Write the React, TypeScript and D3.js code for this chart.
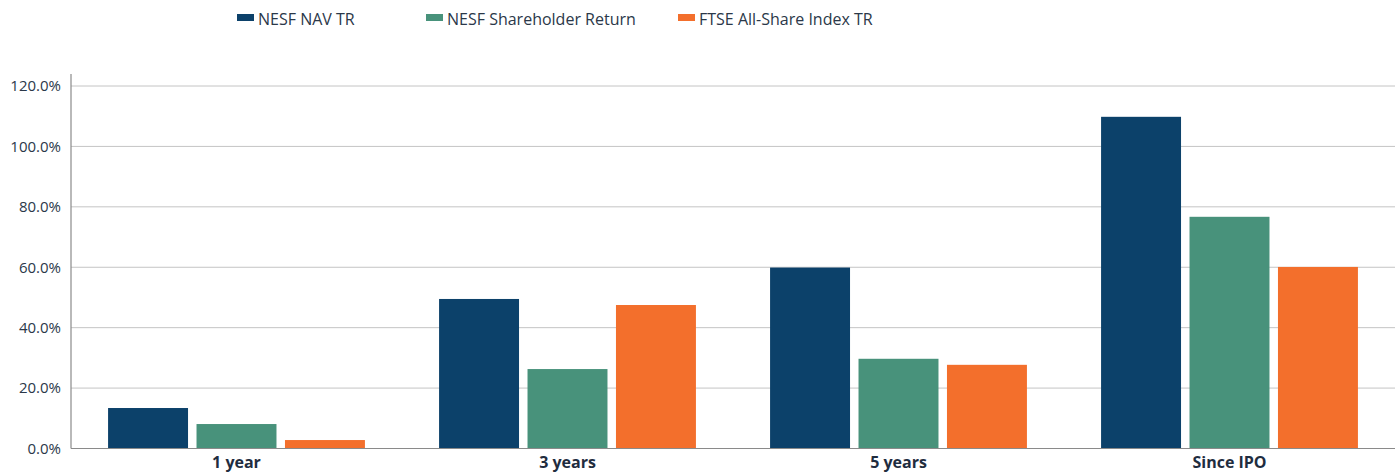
import React from "react";
import * as d3 from "d3";

const categories = ["1 year", "3 years", "5 years", "Since IPO"];
const seriesNames = ["NESF NAV TR", "NESF Shareholder Return", "FTSE All-Share Index TR"];
const navTR = [13.4, 49.5, 59.9, 109.8];
const shareholderReturn = [8.1, 26.3, 29.7, 76.7];
const ftseTR = [2.8, 47.5, 27.7, 60.1];
const yTicks = [0, 20, 40, 60, 80, 100, 120];
const colors = ["#0c416a", "#48927b", "#f36f2c"];

const W = 1399;
const H = 473;
const left = 71;
const right = 1395;
const top = 86;
const bottom = 448.5;
const font = "'Open Sans', 'Noto Sans', sans-serif";

export default function App() {
  const values = [navTR, shareholderReturn, ftseTR];
  const x0 = d3.scaleBand<string>().domain(categories).range([left, right]).paddingInner(0.224).paddingOuter(0.112);
  const x1 = d3.scaleBand<string>().domain(seriesNames).range([0, x0.bandwidth()]).paddingInner(0.096);
  const y = d3.scaleLinear().domain([0, 120]).range([bottom, top]);
  const legendX = [237, 426, 678];

  return (
    <svg width={W} height={H} style={{ position: "absolute", left: 0, top: 0, background: "#fff" }} fontFamily={font}>
      {/* legend */}
      {seriesNames.map((s, i) => (
        <g key={s}>
          <rect x={legendX[i]} y={14} width={17} height={7} fill={colors[i]} />
          <text x={legendX[i] + 21} y={25} fontSize={16} fill="#2b3849">{s}</text>
        </g>
      ))}
      {/* grid */}
      {yTicks.filter((t) => t > 0).map((t) => (
        <line key={t} x1={left} x2={right} y1={y(t)} y2={y(t)} stroke="#c4c4c4" strokeWidth={1} />
      ))}
      {/* y labels */}
      {yTicks.map((t) => (
        <text key={t} x={61} y={y(t)} dy="0.35em" textAnchor="end" fontSize={15} fill="#2b3849">
          {d3.format(".1f")(t) + "%"}
        </text>
      ))}
      {/* bars */}
      {categories.map((c, ci) => (
        <g key={c} transform={`translate(${x0(c)},0)`}>
          {seriesNames.map((s, si) => (
            <rect
              key={s}
              x={x1(s)}
              y={y(values[si][ci])}
              width={x1.bandwidth()}
              height={bottom - y(values[si][ci])}
              fill={colors[si]}
            />
          ))}
        </g>
      ))}
      {/* axes */}
      <line x1={left} x2={left} y1={74} y2={bottom} stroke="#8a8a8a" strokeWidth={1.2} />
      <line x1={left} x2={right} y1={bottom} y2={bottom} stroke="#8a8a8a" strokeWidth={1.2} />
      {categories.map((c) => (
        <text key={c} x={(x0(c) as number) + x0.bandwidth() / 2} y={468} textAnchor="middle" fontSize={16} fontWeight={700} fill="#1f2d3f">
          {c}
        </text>
      ))}
    </svg>
  );
}
